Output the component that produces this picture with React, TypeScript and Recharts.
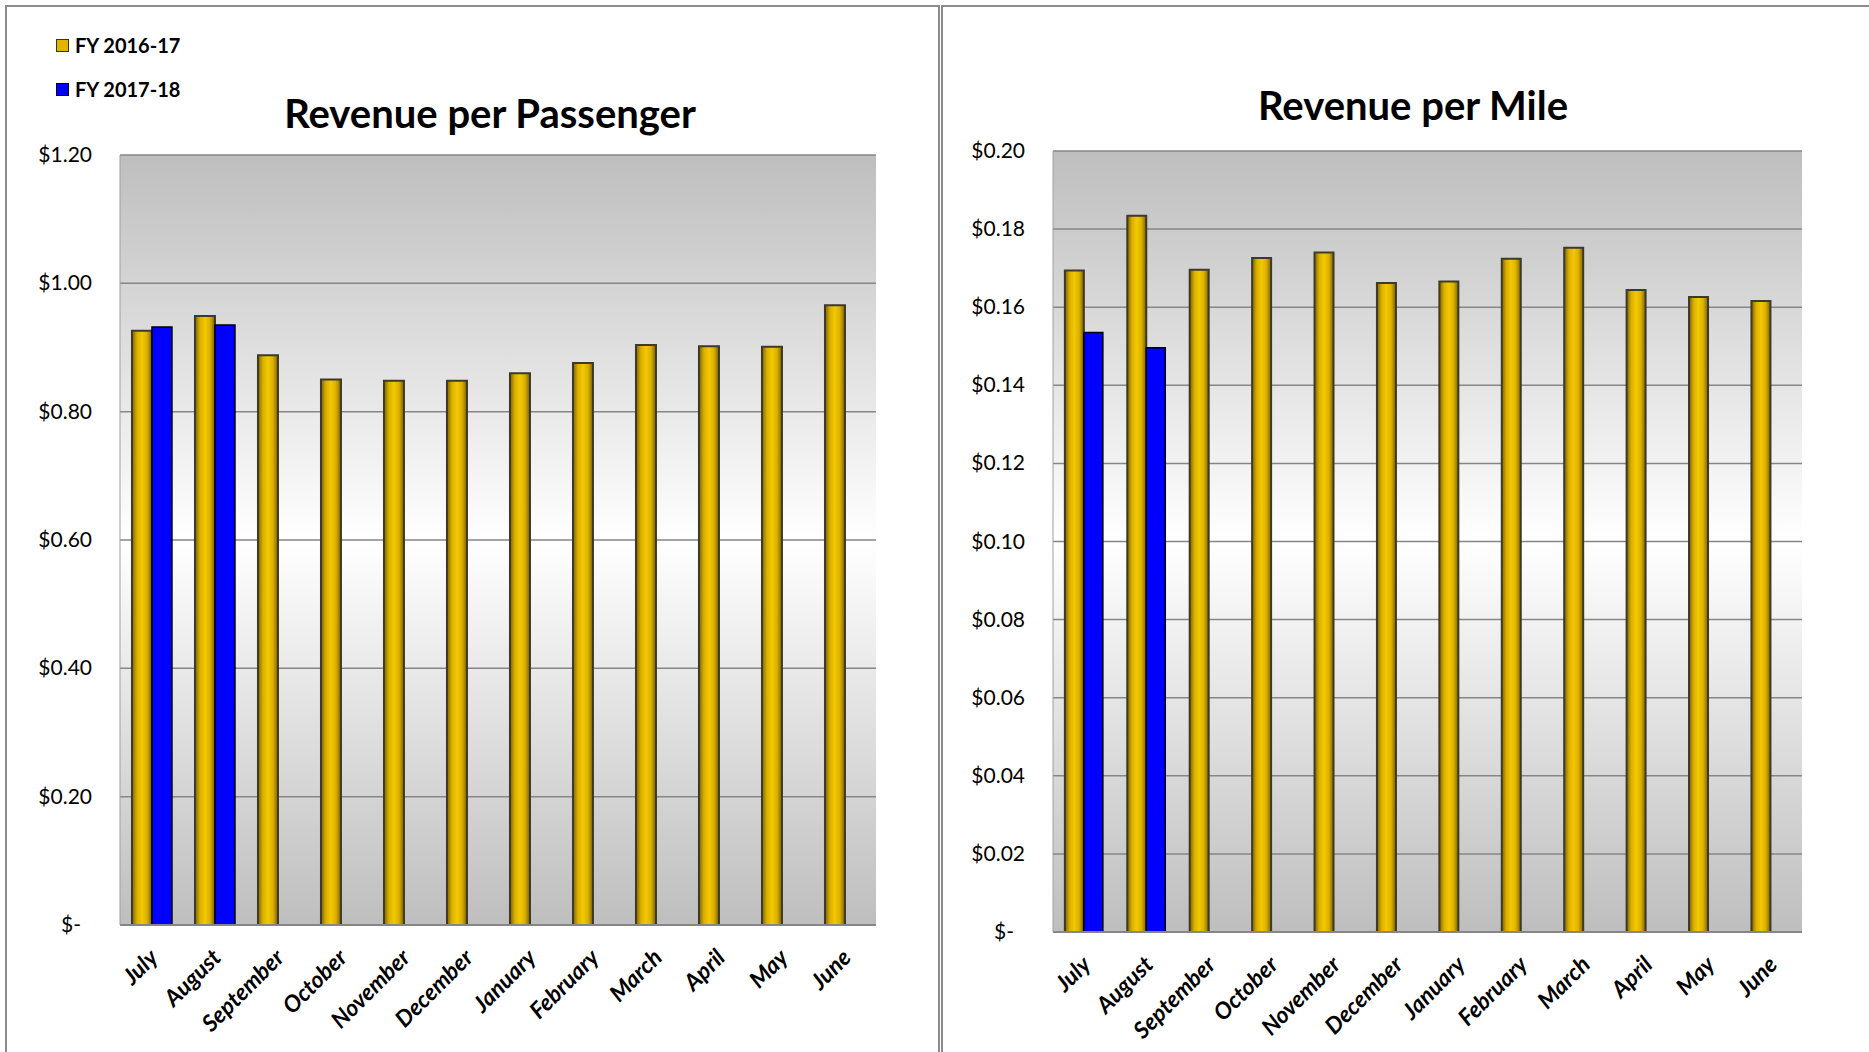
import React from "react";
import { Bar, BarChart, CartesianGrid, XAxis, YAxis } from "recharts";

const months = [
  "July", "August", "September", "October", "November", "December",
  "January", "February", "March", "April", "May", "June",
];

const passengerFY1617 = [0.926, 0.949, 0.888, 0.85, 0.848, 0.848, 0.86, 0.876, 0.904, 0.902, 0.901, 0.966];
const passengerFY1718 = [0.932, 0.935, null, null, null, null, null, null, null, null, null, null];

const mileFY1617 = [0.1694, 0.1834, 0.1696, 0.1726, 0.174, 0.1662, 0.1666, 0.1724, 0.1752, 0.1644, 0.1626, 0.1616];
const mileFY1718 = [0.1535, 0.1496, null, null, null, null, null, null, null, null, null, null];

const passengerTicks = [0, 0.2, 0.4, 0.6, 0.8, 1.0, 1.2];
const mileTicks = [0, 0.02, 0.04, 0.06, 0.08, 0.1, 0.12, 0.14, 0.16, 0.18, 0.2];

const seriesNames = ["FY 2016-17", "FY 2017-18"];

const FONT = "Lato, 'Open Sans', sans-serif";

const money = (v: number) => (v === 0 ? "$-" : "$" + v.toFixed(2));

const YTick = (props: any) => {
  const { x, y, payload } = props;
  const zero = payload.value === 0;
  return (
    <text
      x={x - (zero ? 31 : 20)}
      y={y}
      dy={7}
      textAnchor="end"
      fontSize={21}
      fontFamily={FONT}
      fill="#000"
    >
      {money(payload.value)}
    </text>
  );
};

const XTick = (props: any) => {
  const { x, y, payload } = props;
  return (
    <text
      x={0}
      y={0}
      textAnchor="end"
      fontSize={23}
      fontFamily={FONT}
      fontWeight="bold"
      fontStyle="italic"
      fill="#000"
      transform={`translate(${x + 8},${y + 26}) rotate(-45)`}
    >
      {payload.value}
    </text>
  );
};

interface PanelProps {
  id: string;
  title: string;
  titleX: number;
  titleY: number;
  a: (number | null)[];
  b: (number | null)[];
  ticks: number[];
  left: number;
  width: number;
  plotLeft: number;
  plotRight: number;
  plotTop: number;
  plotBottom: number;
  legend?: boolean;
}

const Panel = (p: PanelProps) => {
  const data = months.map((m, i) => ({ month: m, a: p.a[i], b: p.b[i] }));
  const chartH = 1060;
  return (
    <div
      style={{
        position: "absolute",
        left: p.left,
        top: 5,
        width: p.width,
        height: chartH,
        border: "2px solid #8c8c8c",
        background: "#fff",
      }}
    >
      <div
        style={{
          position: "absolute",
          left: p.titleX - 300,
          top: p.titleY - 26,
          width: 600,
          lineHeight: "52px",
          textAlign: "center",
          fontFamily: FONT,
          fontWeight: "bold",
          fontSize: 40,
          color: "#000",
        }}
      >
        {p.title}
      </div>
      {p.legend && (
        <div style={{ position: "absolute", left: 49, top: 27, fontFamily: FONT, fontWeight: "bold", fontSize: 20 }}>
          {seriesNames.map((n, i) => (
            <div key={n} style={{ display: "flex", alignItems: "center", height: 22, marginBottom: 22 }}>
              <span
                style={{
                  display: "inline-block",
                  width: 11,
                  height: 11,
                  marginRight: 6,
                  border: i === 0 ? "1.5px solid #333" : "1.5px solid #000",
                  background: i === 0 ? "#e0b400" : "#0000ff",
                }}
              />
              {n}
            </div>
          ))}
        </div>
      )}
      <BarChart
        width={p.width}
        height={chartH}
        data={data}
        margin={{ top: p.plotTop, right: p.width - p.plotRight, left: p.plotLeft - 80, bottom: 0 }}
        barCategoryGap="19%"
        barGap={0}
      >
        <defs>
          <linearGradient id={`${p.id}bg`} x1="0" y1="0" x2="0" y2="1">
            <stop offset="0%" stopColor="#bebebe" />
            <stop offset="50%" stopColor="#ffffff" />
            <stop offset="100%" stopColor="#bebebe" />
          </linearGradient>
          <linearGradient id={`${p.id}gold`} x1="0" y1="0" x2="1" y2="0">
            <stop offset="0%" stopColor="#7a6200" />
            <stop offset="25%" stopColor="#dcb000" />
            <stop offset="50%" stopColor="#f2c900" />
            <stop offset="75%" stopColor="#dcb000" />
            <stop offset="100%" stopColor="#7a6200" />
          </linearGradient>
        </defs>
        <CartesianGrid
          vertical={false}
          stroke="#868686"
          strokeWidth={1.5}
          fill={`url(#${p.id}bg)`}
          fillOpacity={1}
        />
        <XAxis
          dataKey="month"
          interval={0}
          height={chartH - p.plotBottom}
          tickLine={false}
          axisLine={{ stroke: "#868686", strokeWidth: 2 }}
          tick={<XTick />}
        />
        <YAxis
          width={80}
          domain={[p.ticks[0], p.ticks[p.ticks.length - 1]]}
          ticks={p.ticks}
          interval={0}
          tickLine={false}
          axisLine={{ stroke: "#a0a0a0", strokeWidth: 1 }}
          tick={<YTick />}
        />
        <Bar
          dataKey="a"
          name={seriesNames[0]}
          fill={`url(#${p.id}gold)`}
          stroke="#3d3a2c"
          strokeWidth={2}
          isAnimationActive={false}
        />
        <Bar
          dataKey="b"
          name={seriesNames[1]}
          fill="#0000ff"
          stroke="#000"
          strokeWidth={1.5}
          isAnimationActive={false}
        />
      </BarChart>
    </div>
  );
};

export default function App() {
  return (
    <div
      style={{
        position: "absolute",
        left: 0,
        top: 0,
        width: 1869,
        height: 1052,
        overflow: "hidden",
        background: "#fff",
      }}
    >
      <Panel
        id="pax"
        title="Revenue per Passenger"
        titleX={483}
        titleY={106}
        a={passengerFY1617}
        b={passengerFY1718}
        ticks={passengerTicks}
        left={5}
        width={931}
        plotLeft={113}
        plotRight={869}
        plotTop={148}
        plotBottom={918}
        legend
      />
      <Panel
        id="mile"
        title="Revenue per Mile"
        titleX={470}
        titleY={98}
        a={mileFY1617}
        b={mileFY1718}
        ticks={mileTicks}
        left={941}
        width={940}
        plotLeft={110}
        plotRight={859}
        plotTop={144}
        plotBottom={925}
      />
    </div>
  );
}
